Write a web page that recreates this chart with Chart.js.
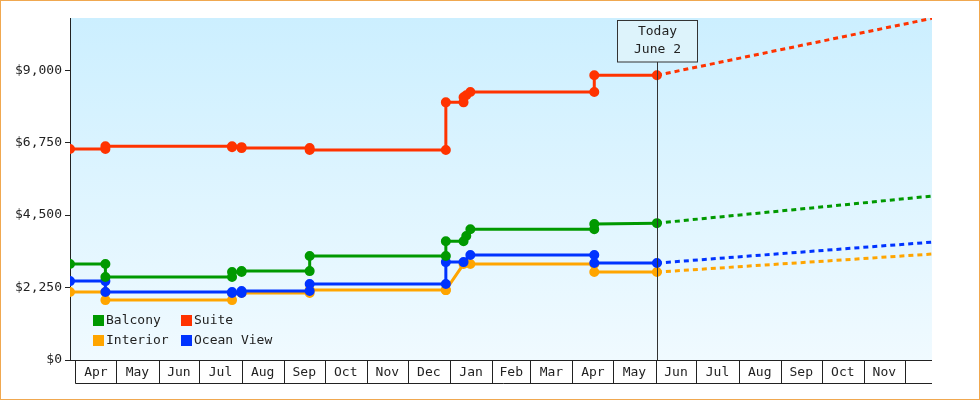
<!DOCTYPE html>
<html><head><meta charset="utf-8">
<script src="https://cdn.jsdelivr.net/npm/chart.js@4"></script>
<style>html,body{margin:0;padding:0;background:#fff}#w{width:980px;height:400px}</style>
</head><body><div id="w"><canvas id="c"></canvas></div>
<script>
// x values are days since April 1 of the first year
const monthLabels = ['Apr','May','Jun','Jul','Aug','Sep','Oct','Nov','Dec','Jan','Feb','Mar','Apr','May','Jun','Jul','Aug','Sep','Oct','Nov'];
const monthStarts = [0,30,61,91,122,153,183,214,244,275,306,334,365,395,426,456,487,518,548,579,609];
const todayDay = 427;
const endDay = 629;

const suiteX = [-4,22,22,115,115,122,122,172,172,272,272,285,285,287,290,381,381,427];
const suiteY = [6550,6550,6640,6640,6610,6610,6580,6580,6520,6520,8000,8000,8160,8220,8320,8320,8840,8840];
const suiteFc = [8840,10610];

const balcX = [-4,22,22,115,115,122,122,172,172,272,272,285,287,290,381,381,427];
const balcY = [2980,2980,2580,2580,2730,2730,2760,2760,3230,3230,3690,3690,3850,4060,4060,4220,4250];
const balcFc = [4250,5090];

const intX = [-4,22,22,115,115,122,172,172,272,272,285,290,381,381,427];
const intY = [2110,2110,1860,1860,2080,2080,2080,2170,2170,2170,2980,2980,2980,2730,2730];
const intFc = [2730,3290];

const oceanX = [-4,22,22,115,115,122,122,172,172,272,272,285,290,381,381,427];
const oceanY = [2450,2450,2110,2110,2080,2080,2140,2140,2360,2360,3040,3040,3260,3260,3010,3010];
const oceanFc = [3010,3660];

const yTicks = [0,2250,4500,6750,9000];

const zip=(xs,ys)=>xs.map((x,i)=>({x,y:ys[i]}));
const C={b:'#009900',s:'#ff3300',i:'#ffa500',o:'#0033ff'};
function solid(lbl,col,xs,ys){return {label:lbl,data:zip(xs,ys),borderColor:col,backgroundColor:col,borderWidth:3,pointRadius:3.5,pointHoverRadius:3.5,tension:0};}
function dash(col,ys){return {label:'',data:[{x:todayDay,y:ys[0]},{x:endDay,y:ys[1]}],borderColor:col,borderWidth:3,borderDash:[5,4],pointRadius:0,tension:0};}

const deco={id:'deco',
 beforeDraw(ch){const {ctx,chartArea:a}=ch;const g=ctx.createLinearGradient(0,a.top,0,a.bottom);g.addColorStop(0,'#ccefff');g.addColorStop(1,'#f0faff');ctx.fillStyle=g;ctx.fillRect(a.left,a.top,a.right-a.left,a.bottom-a.top);},
 afterDatasetsDraw(ch){const {ctx,chartArea:a,scales:{x}}=ch;ctx.save();
  // today line & box
  const tx=Math.round(x.getPixelForValue(todayDay))+0.5;
  ctx.strokeStyle='#333';ctx.lineWidth=1;ctx.beginPath();ctx.moveTo(tx,62);ctx.lineTo(tx,a.bottom);ctx.stroke();
  ctx.fillStyle='#ddf3fb';ctx.fillRect(tx-40,20,80,42);ctx.strokeRect(tx-40,20.5,80,41.5);
  ctx.fillStyle='#222';ctx.font='13px "DejaVu Sans Mono"';ctx.textAlign='center';ctx.textBaseline='middle';
  ctx.fillText('Today',tx,32);ctx.fillText('June 2',tx,50);
  // x axis cells
  ctx.strokeStyle='#222';ctx.beginPath();ctx.moveTo(a.left,a.bottom+0.5);ctx.lineTo(a.right,a.bottom+0.5);
  ctx.moveTo(x.getPixelForValue(monthStarts[0]),383.5);ctx.lineTo(a.right,383.5);
  monthStarts.forEach(d=>{const px=Math.round(x.getPixelForValue(d))+0.5;ctx.moveTo(px,a.bottom);ctx.lineTo(px,383.5);});
  ctx.stroke();
  monthLabels.forEach((m,i)=>{const px=(x.getPixelForValue(monthStarts[i])+x.getPixelForValue(monthStarts[i+1]))/2;ctx.fillText(m,px,373);});
  // legend
  const items=[['Balcony',C.b,93,320],['Suite',C.s,181,320],['Interior',C.i,93,340],['Ocean View',C.o,181,340]];
  ctx.textAlign='left';
  items.forEach(([t,c,lx,ly])=>{ctx.fillStyle=c;ctx.fillRect(lx,ly-5,11,11);ctx.fillStyle='#222';ctx.fillText(t,lx+13,ly+1);});
  // border
  ctx.strokeStyle='#f0a850';ctx.strokeRect(0.5,0.5,979,399);
  ctx.restore();}};

new Chart(document.getElementById('c'),{type:'line',
 data:{datasets:[solid('Suite',C.s,suiteX,suiteY),dash(C.s,suiteFc),solid('Balcony',C.b,balcX,balcY),dash(C.b,balcFc),solid('Ocean View',C.o,oceanX,oceanY),dash(C.o,oceanFc),solid('Interior',C.i,intX,intY),dash(C.i,intFc)]},
 options:{responsive:true,maintainAspectRatio:false,animation:false,
  layout:{padding:{left:0,right:48,top:18,bottom:40}},
  plugins:{legend:{display:false},tooltip:{enabled:false}},
  scales:{x:{type:'linear',min:-4,max:endDay,display:false},
   y:{min:0,max:10620,afterFit(s){s.width=70;},afterBuildTicks(s){s.ticks=yTicks.map(v=>({value:v}));},
    grid:{drawOnChartArea:false,tickLength:5,color:'#222'},border:{color:'#222'},
    ticks:{color:'#222',font:{family:'DejaVu Sans Mono',size:13},padding:3,callback:v=>'$'+v.toLocaleString('en-US')}}}},
 plugins:[deco]});
</script></body></html>
